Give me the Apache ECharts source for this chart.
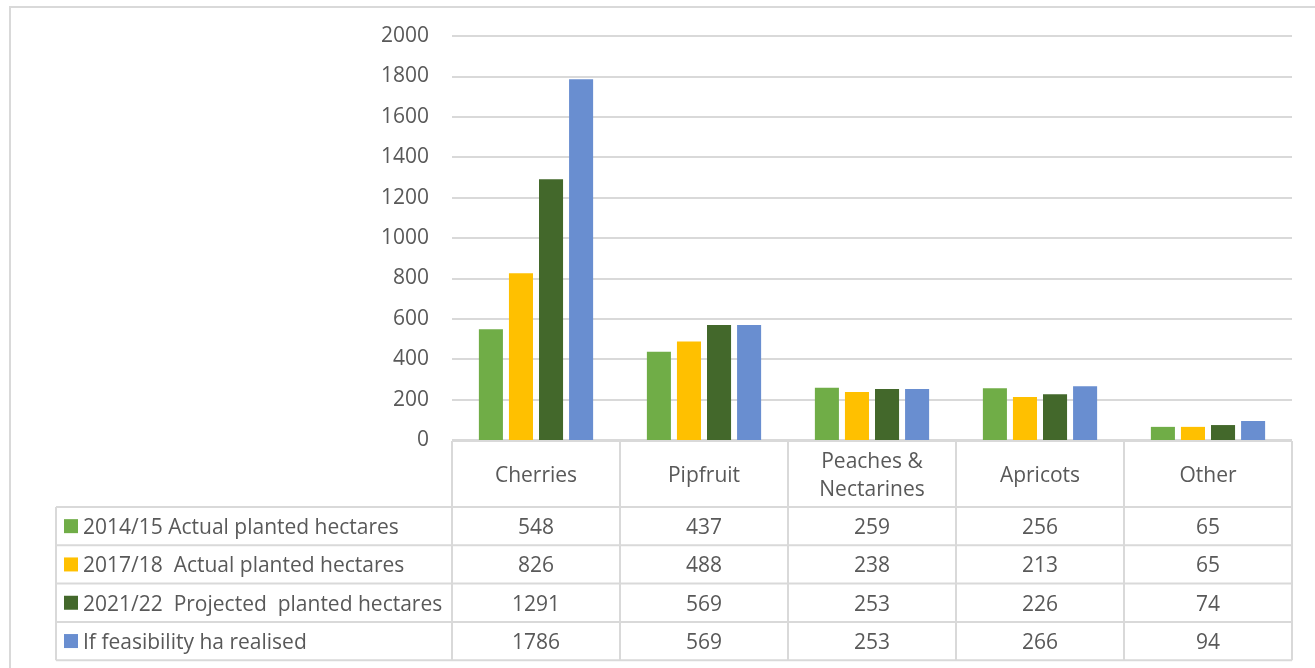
<!DOCTYPE html>
<html>
<head>
<meta charset="utf-8">
<script src="https://cdn.jsdelivr.net/npm/echarts@6/dist/echarts.min.js"></script>
<style>
html,body{margin:0;padding:0;background:#fff;}
#main{width:1315px;height:668px;}
</style>
</head>
<body>
<div id="main"></div>
<script>
// ---- data ----
const categories = ['Cherries', 'Pipfruit', 'Peaches &\nNectarines', 'Apricots', 'Other'];
const seriesNames = [
  '2014/15 Actual planted hectares',
  '2017/18  Actual planted hectares',
  '2021/22  Projected  planted hectares',
  'If feasibility ha realised'
];
const actual1415 = [548, 437, 259, 256, 65];
const actual1718 = [826, 488, 238, 213, 65];
const projected2122 = [1291, 569, 253, 226, 74];
const feasibility = [1786, 569, 253, 266, 94];
const yTicks = { min: 0, max: 2000, interval: 200 };

// ---- styles ----
const colors = ['#70AD47', '#FFC000', '#43682B', '#698ED0'];
const FONT = 'Open Sans';
const FS = 21;
const TXT = '#595959';
const LINE = '#D9D9D9';
const TXT_DY = 2;

const seriesData = [actual1415, actual1718, projected2122, feasibility];

const chart = echarts.init(document.getElementById('main'), null, { renderer: 'canvas' });

const option = {
  animation: false,
  backgroundColor: '#ffffff',
  grid: { left: 452, right: 23, top: 36, bottom: 228 },
  xAxis: {
    type: 'category',
    data: categories,
    axisLine: { show: false },
    axisTick: { show: false },
    axisLabel: { show: false },
    splitLine: { show: false }
  },
  yAxis: {
    type: 'value',
    min: yTicks.min,
    max: yTicks.max,
    interval: yTicks.interval,
    axisLine: { show: false },
    axisTick: { show: false },
    splitLine: { lineStyle: { color: LINE, width: 2 } },
    axisLabel: { color: TXT, fontFamily: FONT, fontSize: FS, margin: 23, padding: [4, 0, 0, 0], formatter: v => String(v) }
  },
  series: seriesNames.map((name, i) => ({
    name: name,
    type: 'bar',
    data: seriesData[i],
    barGap: '25%',
    barCategoryGap: '32%',
    itemStyle: { color: colors[i] }
  }))
};
chart.setOption(option);

// ---- data table drawn below the axis, aligned to the category bands ----
const centers = categories.map((c, i) => chart.convertToPixel({ xAxisIndex: 0 }, i));
const band = centers[1] - centers[0];
const yZero = chart.convertToPixel({ yAxisIndex: 0 }, 0);
const tableTop = yZero + 1;
const headerH = 66;
const rowH = 38.3;
const tableLeft = 56;
const colLeft = centers[0] - band / 2;
const colRight = centers[centers.length - 1] + band / 2;
const rowsTop = tableTop + headerH;
const tableBottom = rowsTop + rowH * seriesNames.length;
const font = FS + 'px "' + FONT + '"';

const els = [];
const line = (x1, y1, x2, y2) => els.push({
  type: 'line', shape: { x1, y1, x2, y2 }, style: { stroke: LINE, lineWidth: 2 }, silent: true
});

// outer chart border
els.push({ type: 'rect', shape: { x: 10, y: 7, width: 1320, height: 700 },
  style: { fill: null, stroke: LINE, lineWidth: 2 }, silent: true });

// header top
line(colLeft, tableTop, colRight, tableTop);
// row lines
for (let r = 0; r <= seriesNames.length; r++) {
  const y = rowsTop + r * rowH;
  line(tableLeft, y, colRight, y);
}
// left border of legend column
line(tableLeft, rowsTop, tableLeft, tableBottom);
// column lines
for (let c = 0; c <= categories.length; c++) {
  const x = colLeft + c * band;
  line(x, tableTop, x, tableBottom);
}

// header texts
categories.forEach((cat, i) => {
  els.push({
    type: 'text', x: centers[i], y: tableTop + headerH / 2 + TXT_DY,
    style: { text: cat, fill: TXT, font: font, align: 'center', verticalAlign: 'middle', lineHeight: 28 },
    silent: true
  });
});

// rows: legend key + name + values
seriesNames.forEach((name, r) => {
  const cy = rowsTop + r * rowH + rowH / 2;
  els.push({ type: 'rect', shape: { x: tableLeft + 8, y: cy - 7, width: 14, height: 14 },
    style: { fill: colors[r] }, silent: true });
  els.push({ type: 'text', x: tableLeft + 27, y: cy + TXT_DY,
    style: { text: name, fill: TXT, font: font, align: 'left', verticalAlign: 'middle' }, silent: true });
  seriesData[r].forEach((v, i) => {
    els.push({ type: 'text', x: centers[i], y: cy + TXT_DY,
      style: { text: String(v), fill: TXT, font: font, align: 'center', verticalAlign: 'middle' }, silent: true });
  });
});

chart.setOption({ graphic: { elements: els } });
</script>
</body>
</html>
